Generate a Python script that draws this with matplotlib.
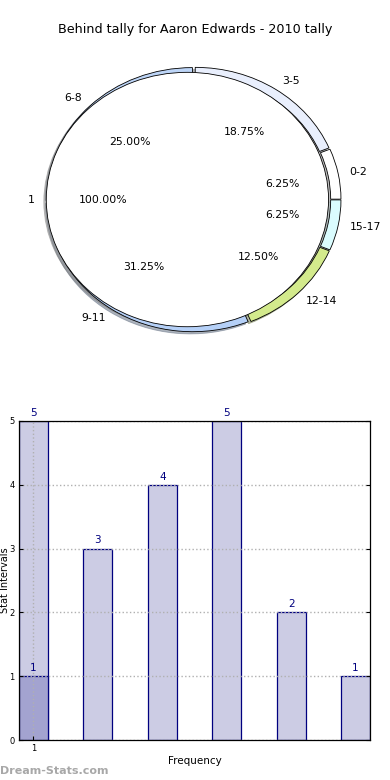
import matplotlib
matplotlib.use("Agg")
import matplotlib.pyplot as plt

# ---- data ----
title = "Behind tally for Aaron Edwards - 2010 tally"
ring_labels = ["0-2", "3-5", "6-8", "9-11", "12-14", "15-17"]
ring_values = [1, 3, 4, 5, 2, 1]
ring_colors = ["#ffffff", "#e9effd", "#bdd5f7", "#b5d0f7", "#d3ea8c", "#dafcfe"]
inner_labels = ["1"]
inner_values = [1]

bar_positions = [0, 1, 2, 3, 4, 5]
bar_values = [5, 3, 4, 5, 2, 1]
overlay_positions = [0]
overlay_values = [1]
xtick_pos = [0]
xtick_labels = ["1"]
yticks = [0, 1, 2, 3, 4, 5]

fig = plt.figure(figsize=(3.9, 7.8), dpi=100)
fig.text(0.5, 1 - 30 / 780, title, ha="center", va="center", fontsize=9.2)

# ---- pie / ring ----
axp = fig.add_axes([10.25 / 390, 414.85 / 780, 367.5 / 390, 331.25 / 780])
wp = dict(edgecolor="black", linewidth=0.6)
shadow_kw = dict(ox=-0.012, oy=-0.012, shade=0.5)
w1, t1, a1 = axp.pie(ring_values, labels=ring_labels, colors=ring_colors,
                     autopct="%.2f%%", pctdistance=0.61, labeldistance=1.08,
                     explode=[0.015] * len(ring_values), shadow=shadow_kw,
                     startangle=0, counterclock=True, radius=0.985,
                     wedgeprops=dict(width=0.07, **wp),
                     textprops=dict(fontsize=7.8))
w2, t2, a2 = axp.pie(inner_values, labels=inner_labels, colors=["white"],
                     autopct="%.2f%%", pctdistance=0.6, labeldistance=1.08,
                     explode=[0.045], shadow=shadow_kw, startangle=0, radius=0.96,
                     wedgeprops=dict(linewidth=0.6, edgecolor="black"),
                     textprops=dict(fontsize=7.8))
axp.set_aspect("auto")
axp.set_xlim(-1.25, 1.25)
axp.set_ylim(-1.25, 1.25)
axp.axis("off")

# ---- bars ----
edge = "#00007f"
axb = fig.add_axes([19 / 390, 40 / 780, 351 / 390, 319 / 780])
axb.bar(bar_positions, bar_values, width=0.45, color="#cccce4",
        edgecolor=edge, linewidth=0.9, zorder=1)
axb.bar(overlay_positions, overlay_values, width=0.45, color="#a3a3d0",
        edgecolor=edge, linewidth=0.9, zorder=1.5)
for x, v in zip(bar_positions, bar_values):
    axb.text(x, v + 0.05, str(v), ha="center", va="bottom", color=edge, fontsize=7.5)
for x, v in zip(overlay_positions, overlay_values):
    axb.text(x, v + 0.05, str(v), ha="center", va="bottom", color=edge, fontsize=7.5)
axb.set_xlim(-0.225, 5.225)
axb.set_ylim(0, 5)
axb.set_xticks(xtick_pos)
axb.set_xticklabels(xtick_labels)
axb.set_yticks(yticks)
axb.tick_params(labelsize=6, direction="in", length=3, top=False, right=True, pad=3)
axb.grid(True, color="#b0b0b0", linestyle=":", linewidth=1.0, zorder=2)
axb.set_axisbelow(False)
for s in axb.spines.values():
    s.set_linewidth(0.9)
    s.set_zorder(3)
axb.set_xlabel("Frequency", fontsize=7.5, labelpad=2)
axb.set_ylabel("Stat Intervals", fontsize=7)
axb.yaxis.set_label_coords(-0.025, 0.5)

fig.text(0.0, 1 - 771 / 780, "Dream-Stats.com", ha="left", va="center",
         fontsize=8, color="#a8a8a8", fontweight="bold")

fig.savefig("out.png", dpi=100)
